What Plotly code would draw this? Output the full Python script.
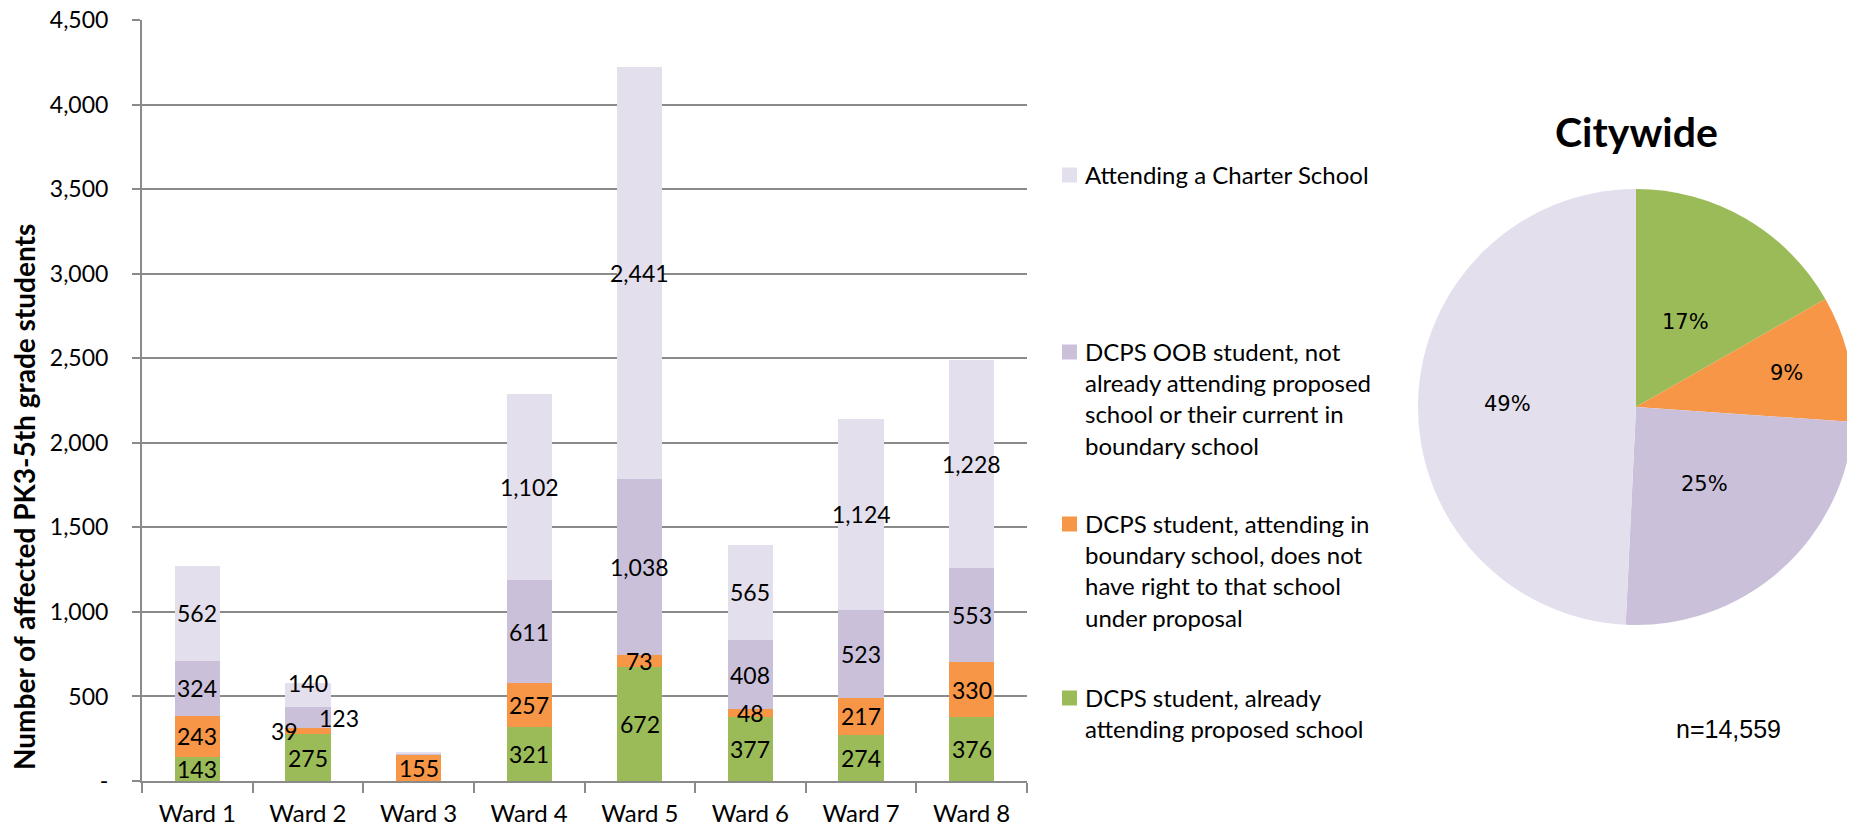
import math
import plotly.graph_objects as go

# ---------------- data ----------------
wards = ["Ward 1", "Ward 2", "Ward 3", "Ward 4", "Ward 5", "Ward 6", "Ward 7", "Ward 8"]
already_attending = [143, 275, 0, 321, 672, 377, 274, 376]
in_boundary_no_right = [243, 39, 155, 257, 73, 48, 217, 330]
oob_student = [324, 123, 9, 611, 1038, 408, 523, 553]
charter = [562, 140, 8, 1102, 2441, 565, 1124, 1228]

series_names = [
    "DCPS student, already attending proposed school",
    "DCPS student, attending in boundary school, does not have right to that school under proposal",
    "DCPS OOB student, not already attending proposed school or their current in boundary school",
    "Attending a Charter School",
]
legend_lines = [
    "DCPS student, already<br>attending proposed school",
    "DCPS student, attending in<br>boundary school, does not<br>have right to that school<br>under proposal",
    "DCPS OOB student, not<br>already attending proposed<br>school or their current in<br>boundary school",
    "Attending a Charter School",
]
y_tick_vals = [0, 500, 1000, 1500, 2000, 2500, 3000, 3500, 4000, 4500]
y_tick_text = ["-", "500", "1,000", "1,500", "2,000", "2,500", "3,000", "3,500", "4,000", "4,500"]
y_title = "Number of affected PK3-5th grade students"
pie_title = "Citywide"
n_total = "n=14,559"

# ---------------- style ----------------
colors = ["#9BBB59", "#F79646", "#CBC0DA", "#E4DFEC"]
OFF = 8                      # page body margin
W, H = 1855 - OFF, 828 - OFF
CAL = "Lato, 'Open Sans', sans-serif"
VER = "'DejaVu Sans', Verdana, sans-serif"
ARI = "'Liberation Sans', Arial, sans-serif"
grey = "#8a8a8a"

def px(x):
    return (x - OFF) / W

def py(y):
    return 1 - (y - OFF) / H

series = [already_attending, in_boundary_no_right, oob_student, charter]

fig = go.Figure()
for vals, name, col in zip(series, series_names, colors):
    fig.add_trace(go.Bar(
        x=wards, y=vals, name=name, marker=dict(color=col, line=dict(width=0)),
        width=0.41, showlegend=False, hoverinfo="x+y+name",
    ))

# data labels at segment middles
nudges = {(1, 1): (-23, 0), (1, 2): (31, 0), (1, 3): (0, 12)}
annotations = []
for i, w in enumerate(wards):
    base = 0
    for s, vals in enumerate(series):
        v = vals[i]
        if v >= 20:
            dx, dy = nudges.get((i, s), (0, 0))
            annotations.append(dict(
                x=w, y=base + v / 2, xref="x", yref="y", text=f"{v:,}",
                showarrow=False, font=dict(family=CAL, size=23, color="#000"),
                xanchor="center", yanchor="middle", xshift=dx, yshift=dy,
            ))
        base += v

# y-axis title
annotations.append(dict(
    x=px(24), y=py(497), xref="paper", yref="paper", text=f"<b>{y_title}</b>",
    xanchor="center", yanchor="middle",
    textangle=-90, showarrow=False, font=dict(family=CAL, size=28, color="#000"),
))

# custom legend (charter first, top to bottom)
legend_y = [175, 352, 524, 698]
order = [3, 2, 1, 0]
shapes = []
for yy, idx in zip(legend_y, order):
    shapes.append(dict(
        type="rect", xref="paper", yref="paper",
        x0=px(1062), x1=px(1077), y0=py(yy + 7.5), y1=py(yy - 7.5),
        fillcolor=colors[idx], line=dict(width=0),
    ))
    annotations.append(dict(
        x=px(1083), y=py(yy - 17), xref="paper", yref="paper", xanchor="left", yanchor="top",
        align="left", text=legend_lines[idx], showarrow=False,
        font=dict(family=CAL, size=24, color="#000"),
    ))

# pie
pie_vals = [sum(v) for v in series]
PCX, PCY, PR = 1636, 407, 218
fig.add_trace(go.Pie(
    values=pie_vals, labels=series_names, marker=dict(colors=colors, line=dict(width=0)),
    sort=False, direction="clockwise", rotation=0, textinfo="none",
    domain=dict(x=[px(PCX - PR), px(PCX + PR)], y=[py(PCY + PR), py(PCY - PR)]),
    showlegend=False, hoverinfo="label+value+percent",
))

# pie percentage labels at each slice's middle angle
label_radius = [0.45, 0.71, 0.47, 0.59]
total = sum(pie_vals)
cum = 0
for v, rf in zip(pie_vals, label_radius):
    mid = (cum + v / 2) / total * 2 * math.pi
    cum += v
    lx = PCX + rf * PR * math.sin(mid)
    ly = PCY - rf * PR * math.cos(mid)
    annotations.append(dict(
        x=px(lx), y=py(ly), xref="paper", yref="paper", text=f"{v / total:.0%}",
        xanchor="center", yanchor="middle", showarrow=False,
        font=dict(family=VER, size=21, color="#000"),
    ))

annotations.append(dict(
    x=px(1636), y=py(131), xref="paper", yref="paper", text=f"<b>{pie_title}</b>",
    xanchor="center", yanchor="middle",
    showarrow=False, font=dict(family=CAL, size=41, color="#000"),
))
annotations.append(dict(
    x=px(1728), y=py(729), xref="paper", yref="paper", text=n_total,
    xanchor="center", yanchor="middle",
    showarrow=False, font=dict(family=ARI, size=25, color="#000"),
))

fig.update_layout(
    width=W, height=H, barmode="stack",
    paper_bgcolor="white", plot_bgcolor="white",
    margin=dict(l=0, r=0, t=0, b=0, autoexpand=False),
    annotations=annotations, shapes=shapes,
    xaxis=dict(
        domain=[px(142), px(1027)], anchor="y", automargin=False,
        showline=True, linecolor=grey, linewidth=2,
        ticks="outside", tickson="boundaries", ticklen=10, tickcolor=grey, tickwidth=2,
        ticklabelstandoff=10, ticklabeloverflow="allow",
        tickfont=dict(family=CAL, size=24, color="#000"), showgrid=False,
    ),
    yaxis=dict(
        domain=[py(781), py(20)], anchor="x", range=[0, 4500], automargin=False,
        tickvals=y_tick_vals, ticktext=y_tick_text,
        showline=True, linecolor=grey, linewidth=2,
        ticks="outside", ticklen=8, tickcolor=grey, tickwidth=2, ticklabelstandoff=19,
        ticklabeloverflow="allow",
        showgrid=True, gridcolor=grey, gridwidth=1.5, zeroline=False,
        tickfont=dict(family=CAL, size=23, color="#000"),
    ),
)

fig.write_html("out.html")
